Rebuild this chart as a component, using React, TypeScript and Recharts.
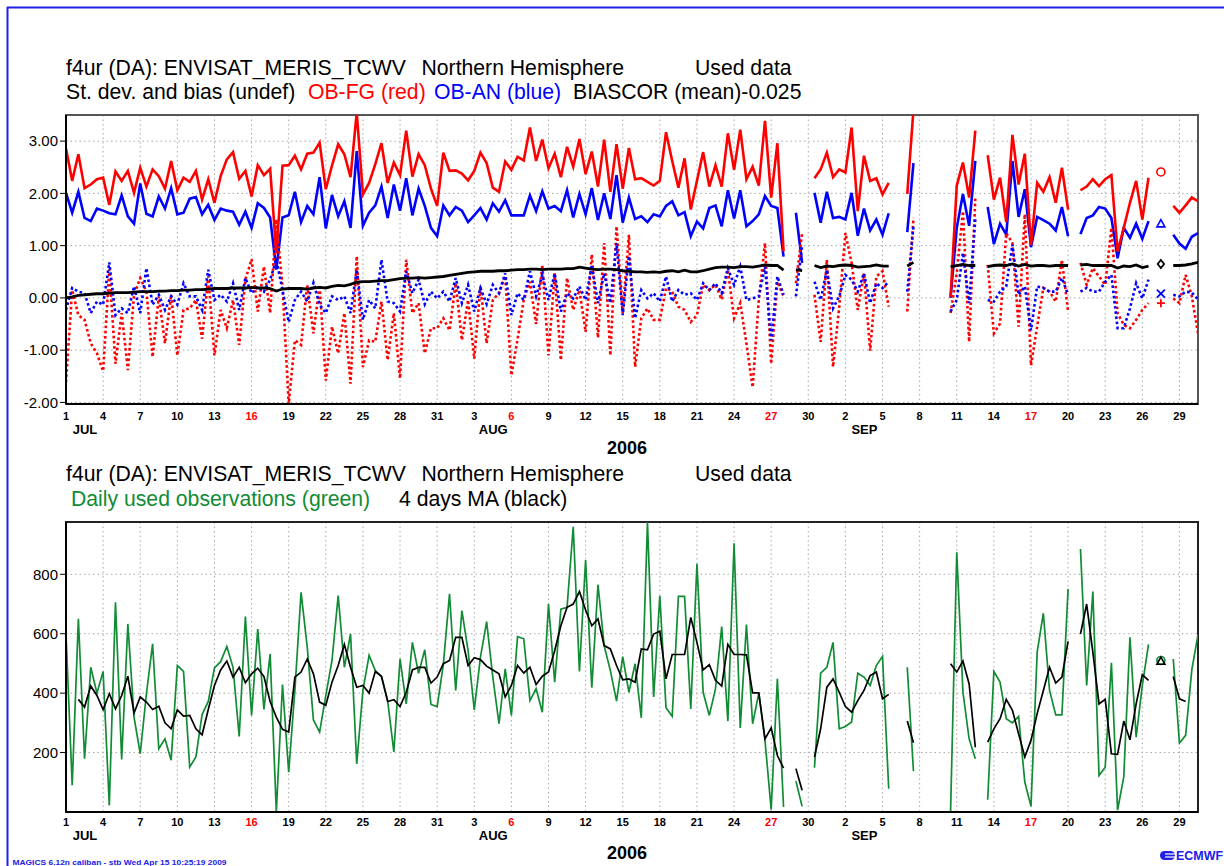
import React from "react";
import {
  LineChart,
  Line,
  XAxis,
  YAxis,
  CartesianGrid,
  ReferenceArea,
} from "recharts";

const FONT = "'Liberation Sans', Arial, Helvetica, sans-serif";
const RED = "#ff0000";
const BLUE = "#0000ff";
const GREEN = "#118c35";
const FRAME_BLUE = "#2020e8";

// x axis: days since 1 Jul 2006 00z, a label every 3 days
const dayTicks = [0, 3, 6, 9, 12, 15, 18, 21, 24, 27, 30, 33, 36, 39, 42, 45, 48, 51, 54, 57, 60, 63, 66, 69, 72, 75, 78, 81, 84, 87, 90];
const dayTickLabels = ["1", "4", "7", "10", "13", "16", "19", "22", "25", "28", "31", "3", "6", "9", "12", "15", "18", "21", "24", "27", "30", "2", "5", "8", "11", "14", "17", "20", "23", "26", "29"];
const redTickIdx = [5, 12, 19, 26];
const monthTickIdx = [0, 11, 21];
const monthNames = ["JUL", "AUG", "SEP"];

const topYTicks = [-2, -1, 0, 1, 2, 3];
const bottomYTicks = [200, 400, 600, 800];

// 12-hourly values, 1 Jul 00z .. 30 Sep 12z (null = no data)
const fgStd = [
  2.86, 2.24, 2.75, 2.1, 2.17, 2.27, 2.3, 1.78, 2.42, 2.24,
  2.43, 2.01, 2.49, 2.13, 2.46, 2.33, 2.09, 2.62, 2.06, 2.3,
  2.22, 2.43, 1.88, 2.27, 1.82, 2.33, 2.65, 2.79, 2.28, 2.43,
  1.94, 2.54, 2.35, 2.47, 0.85, 2.53, 2.54, 2.72, 2.46, 2.76,
  2.78, 2.97, 2.08, 2.53, 2.94, 2.75, 2.31, 3.55, 1.98, 2.2,
  2.56, 2.96, 2.2, 2.59, 2.35, 3.2, 2.32, 2.75, 2.54, 2.09,
  1.76, 2.78, 2.43, 2.44, 2.38, 2.25, 2.43, 2.78, 2.58, 2.11,
  2.03, 2.61, 2.45, 2.7, 2.63, 3.26, 2.62, 3.03, 2.48, 2.76,
  2.31, 2.89, 2.51, 3.04, 2.37, 2.8, 2.13, 3.03, 2.03, 2.94,
  2.09, 2.87, 2.27, 2.29, 2.22, 2.15, 2.24, 3.17, 2.62, 2.11,
  2.67, 1.69, 2.24, 2.79, 2.13, 2.54, 2.13, 3.15, 2.45, 3.22,
  2.27, 2.51, 2.15, 3.39, 1.92, 2.96, 0.89, null, null, null,
  null, 2.29, 2.46, 2.78, 2.31, 2.46, 2.4, 3.26, 1.66, 2.72,
  2.24, 2.29, 1.98, 2.2, null, null, 1.99, 3.6, null, null,
  null, null, null, 0.02, 2.15, 2.59, 1.92, 3.2, null, 2.73,
  1.88, 2.3, 1.45, 3.12, 2.17, 2.76, 1.01, 2.2, 2.03, 2.31,
  1.82, 2.49, 1.69, null, 2.06, 2.13, 2.27, 2.14, 2.27, 2.35,
  0.89, 1.34, 1.82, 2.24, 1.5, 2.3, null, 2.41, null, 1.76,
  1.63, 1.77, 1.92, 1.85,
];

const anStd = [
  2.01, 1.63, 2.03, 1.53, 1.47, 1.71, 1.67, 1.62, 1.6, 1.96,
  1.56, 1.42, 2.19, 1.61, 1.56, 1.94, 1.71, 2.1, 1.6, 1.63,
  1.9, 1.93, 1.6, 1.78, 1.49, 1.71, 1.67, 1.65, 1.4, 1.65,
  1.34, 1.81, 1.72, 1.54, 0.54, 1.54, 1.58, 2.03, 1.45, 1.76,
  1.6, 2.31, 1.33, 1.97, 1.56, 1.85, 1.34, 2.81, 1.38, 1.63,
  1.77, 2.13, 1.53, 2.17, 1.67, 2.29, 1.58, 2.09, 1.76, 1.34,
  1.18, 1.77, 1.58, 1.74, 1.67, 1.45, 1.58, 1.72, 1.5, 1.81,
  1.65, 1.87, 1.58, 1.58, 1.58, 1.96, 1.66, 2.04, 1.71, 1.76,
  1.66, 2.06, 1.54, 1.99, 1.6, 2.1, 1.49, 2.0, 1.51, 2.35,
  1.44, 1.92, 1.51, 1.56, 1.45, 1.6, 1.56, 1.76, 1.85, 1.58,
  1.64, 1.18, 1.46, 1.33, 1.72, 1.77, 1.37, 2.06, 1.52, 2.06,
  1.37, 1.47, 1.6, 1.95, 1.76, 1.72, 0.79, null, 1.63, 0.67,
  null, 2.01, 1.44, 2.03, 1.53, 1.55, 1.5, 2.01, 1.19, 1.71,
  1.29, 1.5, 1.21, 1.62, null, null, 1.26, 2.58, null, null,
  null, null, null, 0.0, 1.34, 1.99, 1.38, 2.62, null, 1.74,
  1.03, 1.42, 1.21, 2.62, 1.55, 2.08, 0.97, 1.55, 1.49, 1.42,
  1.29, 1.74, 1.18, null, 1.22, 1.53, 1.58, 1.74, 1.71, 1.53,
  0.76, 1.34, 1.15, 1.42, 1.13, 1.47, null, 1.42, null, 1.21,
  1.04, 0.94, 1.17, 1.24,
];

const fgBias = [
  -1.61, 0.15, -0.33, -0.42, -0.87, -1.06, -1.4, 0.54, -1.26, -0.29,
  -1.38, 0.06, 0.38, 0.12, -1.13, 0.03, -0.87, 0.06, -1.1, -0.23,
  -0.2, -0.04, -0.78, 0.41, -1.1, -0.23, -0.58, -0.04, -0.9, 0.35,
  0.74, -0.26, 0.6, -0.29, 1.5, 0.22, -2.03, -0.81, -0.9, 0.25,
  -0.68, 0.25, -1.58, -0.55, -1.06, -0.29, -1.64, 0.8, -1.32, -0.81,
  -0.84, -0.07, -1.19, -0.29, -1.54, 0.73, -0.29, -0.1, -1.06, -0.58,
  -0.58, -0.39, -0.62, 0.28, -0.81, -0.04, -1.16, 0.22, -0.87, -0.04,
  0.09, 0.42, -1.48, -0.79, -0.04, 0.31, -0.5, 0.63, -1.1, 0.47,
  -1.19, 0.38, -0.23, 0.15, -0.65, 0.83, -0.76, 1.05, -1.1, 1.37,
  -0.29, 1.21, -1.32, -0.39, -0.2, -0.42, -0.42, 0.19, 0.12, -0.17,
  -0.23, -0.46, -0.33, 0.25, 0.15, 0.25, -0.03, 0.54, -0.39, -0.1,
  -0.87, -1.71, -0.04, 1.05, -1.26, 0.31, 0.03, null, 0.28, 1.24,
  null, 0.06, -0.84, 0.73, -1.32, -0.17, 1.24, 0.67, -0.23, 0.47,
  -1.01, 0.41, 0.51, -0.17, null, null, -0.26, 1.53, null, null,
  null, null, null, -0.29, 0.47, 1.66, -0.84, 1.9, null, 0.63,
  -0.68, -0.49, 1.24, 1.05, -0.55, 1.6, -1.29, -0.55, 0.19, 0.12,
  -0.07, 0.73, -0.26, null, 0.67, 0.25, 0.57, 0.41, 0.25, 1.34,
  -0.29, -0.52, -0.58, -0.42, -0.23, -0.1, null, -0.1, null, -0.01,
  -0.1, 0.44, 0.03, -0.68,
];

const anBias = [
  -0.23, 0.19, 0.12, 0.09, -0.29, -0.07, -0.13, 0.68, -0.33, -0.2,
  -0.29, 0.22, -0.29, 0.57, -0.13, 0.06, -0.23, 0.03, -0.13, 0.28,
  0.03, 0.03, -0.23, 0.54, -0.04, 0.06, -0.07, 0.28, -0.23, 0.38,
  0.09, 0.22, 0.12, 0.35, 0.73, 0.15, -0.46, -0.04, 0.12, -0.07,
  0.29, -0.13, -0.29, 0.03, -0.04, 0.03, -0.29, 0.54, -0.42, -0.04,
  -0.2, 0.73, -0.07, -0.1, -0.26, 0.51, 0.09, 0.35, -0.12, 0.12,
  -0.01, 0.12, -0.07, 0.38, -0.1, 0.25, -0.26, 0.19, -0.12, 0.25,
  0.09, 0.47, -0.33, 0.09, -0.04, 0.51, 0.03, 0.44, -0.04, 0.47,
  -0.26, 0.09, -0.01, 0.22, -0.04, 0.63, -0.1, 0.47, -0.1, 1.05,
  -0.33, 0.8, -0.39, 0.15, -0.01, 0.09, -0.07, 0.41, -0.07, 0.15,
  0.06, 0.09, -0.04, 0.28, 0.15, 0.28, 0.09, 0.57, 0.25, 0.6,
  -0.04, -0.01, 0.03, 0.6, -0.81, 0.41, 0.06, null, 0.03, 0.99,
  null, 0.31, -0.04, 0.54, -0.2, 0.03, 0.44, 0.35, 0.12, 0.47,
  -0.1, 0.28, 0.19, 0.31, null, null, 0.12, 1.37, null, null,
  null, null, null, -0.26, -0.04, 0.86, -0.1, 1.5, null, -0.04,
  -0.07, 0.12, 0.22, 1.02, 0.06, 0.22, -0.62, 0.22, 0.19, 0.12,
  0.12, 0.38, 0.06, null, 0.12, 0.19, 0.12, 0.12, 0.31, 0.44,
  -0.58, -0.58, -0.2, 0.28, -0.01, 0.35, null, 0.08, null, 0.06,
  0.03, 0.12, 0.1, -0.03,
];

const biasMean = [
  0, 0.02, 0.05, 0.06, 0.07, 0.08, 0.08, 0.09, 0.1, 0.1,
  0.1, 0.11, 0.12, 0.12, 0.12, 0.13, 0.13, 0.14, 0.14, 0.15,
  0.15, 0.16, 0.16, 0.17, 0.18, 0.18, 0.18, 0.19, 0.19, 0.19,
  0.2, 0.19, 0.19, 0.18, 0.13, 0.17, 0.18, 0.18, 0.18, 0.17,
  0.19, 0.2, 0.19, 0.22, 0.24, 0.23, 0.26, 0.3, 0.31, 0.31,
  0.32, 0.33, 0.33, 0.35, 0.37, 0.38, 0.38, 0.39, 0.38, 0.39,
  0.4, 0.41, 0.43, 0.45, 0.47, 0.49, 0.5, 0.51, 0.51, 0.51,
  0.52, 0.52, 0.53, 0.54, 0.54, 0.55, 0.55, 0.54, 0.55, 0.55,
  0.55, 0.56, 0.56, 0.59, 0.57, 0.55, 0.54, 0.55, 0.55, 0.54,
  0.52, 0.51, 0.5, 0.5, 0.49, 0.5, 0.49, 0.51, 0.52, 0.5,
  0.53, 0.5, 0.5, 0.52, 0.55, 0.58, 0.59, 0.59, 0.58, 0.6,
  0.6, 0.59, 0.61, 0.63, 0.62, 0.62, 0.53, null, 0.54, 0.52,
  null, 0.62, 0.58, 0.61, 0.6, 0.62, 0.63, 0.62, 0.59, 0.6,
  0.61, 0.63, 0.61, 0.61, null, null, 0.61, 0.68, null, null,
  null, null, null, 0.6, 0.62, 0.64, 0.62, 0.62, null, 0.6,
  0.62, 0.63, 0.62, 0.65, 0.61, 0.64, 0.61, 0.62, 0.62, 0.61,
  0.62, 0.62, 0.62, null, 0.63, 0.64, 0.62, 0.62, 0.62, 0.62,
  0.57, 0.61, 0.6, 0.63, 0.58, 0.61, null, 0.65, null, 0.62,
  0.62, 0.63, 0.65, 0.68,
];

const obs = [
  599, 90, 650, 179, 487, 400, 473, 22, 706, 177,
  633, 319, 196, 398, 566, 213, 246, 174, 493, 473,
  151, 185, 328, 372, 485, 506, 557, 487, 254, 658,
  325, 616, 345, 532, 0, 429, 134, 409, 739, 555,
  310, 269, 392, 510, 728, 487, 599, 162, 409, 527,
  476, 456, 375, 202, 515, 364, 571, 467, 546, 362,
  355, 496, 734, 409, 678, 543, 344, 521, 641, 454,
  297, 482, 325, 590, 583, 375, 415, 336, 700, 437,
  683, 689, 960, 473, 848, 418, 765, 560, 476, 373,
  523, 403, 499, 317, 975, 387, 728, 351, 322, 726,
  726, 347, 835, 403, 325, 415, 624, 306, 904, 283,
  631, 297, 400, 241, 8, 448, 17, null, 104, 19,
  null, 149, 467, 487, 571, 280, 288, 303, 467, 454,
  426, 493, 524, 78, null, null, 487, 137, null, null,
  null, null, null, 0, 874, 403, 246, 179, null, 41,
  473, 437, 314, 300, 322, 101, 19, 538, 669, 409,
  327, 327, 751, null, 885, 426, 742, 123, 151, 502,
  6, 118, 588, 252, 426, 564, null, 510, null, 515,
  232, 258, 478, 597,
];

const obsMa = [
  null, null, 379, 353, 424, 392, 345, 398, 347, 392,
  457, 333, 387, 370, 345, 356, 300, 280, 344, 323,
  325, 280, 260, 345, 426, 478, 508, 454, 487, 435,
  465, 484, 456, 372, 319, 278, 269, 454, 471, 515,
  465, 370, 359, 437, 493, 564, 487, 420, 426, 400,
  473, 457, 372, 378, 355, 403, 478, 487, 487, 434,
  454, 499, 510, 588, 588, 493, 519, 513, 491, 478,
  465, 387, 426, 493, 468, 487, 429, 457, 471, 543,
  627, 689, 700, 742, 680, 627, 650, 560, 549, 493,
  445, 448, 437, 549, 546, 599, 608, 448, 530, 530,
  530, 655, 571, 478, 496, 443, 424, 564, 530, 530,
  529, 401, 401, 246, 283, 190, 148, null, 146, 73,
  null, 185, 280, 420, 448, 403, 355, 336, 375, 409,
  459, 471, 381, 396, null, null, 306, 233, null, null,
  null, null, null, 499, 471, 508, 431, 218, null, 235,
  280, 314, 379, 342, 263, 185, 241, 331, 409, 487,
  434, 454, 574, null, 599, 700, 538, 364, 379, 196,
  194, 306, 243, 364, 462, 443, null, 508, null, 456,
  381, 372, null, null,
];

const rows = fgStd.map((v, i) => ({
  t: i / 2,
  fgStd: v,
  anStd: anStd[i],
  fgBias: fgBias[i],
  anBias: anBias[i],
  biasMean: biasMean[i],
  obs: obs[i],
  obsMa: obsMa[i],
}));

// single points with no neighbours are drawn as markers (like MAGICS does)
function Marker({ shape, cx, cy, color }: any) {
  const s = 4;
  if (shape === "circle")
    return <circle cx={cx} cy={cy} r={s} fill="none" stroke={color} strokeWidth={1.6} />;
  if (shape === "triangle")
    return (
      <path
        d={`M${cx},${cy - s} L${cx + s},${cy + s * 0.8} L${cx - s},${cy + s * 0.8} Z`}
        fill="none"
        stroke={color}
        strokeWidth={1.6}
      />
    );
  if (shape === "diamond")
    return (
      <path
        d={`M${cx},${cy - s} L${cx + s * 0.8},${cy} L${cx},${cy + s} L${cx - s * 0.8},${cy} Z`}
        fill="none"
        stroke={color}
        strokeWidth={1.8}
      />
    );
  if (shape === "cross")
    return (
      <path
        d={`M${cx - s},${cy - s} L${cx + s},${cy + s} M${cx - s},${cy + s} L${cx + s},${cy - s}`}
        stroke={color}
        strokeWidth={1.8}
      />
    );
  return (
    <path
      d={`M${cx - s},${cy} L${cx + s},${cy} M${cx},${cy - s} L${cx},${cy + s}`}
      stroke={color}
      strokeWidth={1.8}
    />
  );
}

const loneDot = (key: string, shape: string, color: string) => (p: any) => {
  const i = p.index;
  const k = `${key}-${i}`;
  const r: any = rows;
  const lone =
    r[i]?.[key] != null && r[i - 1]?.[key] == null && r[i + 1]?.[key] == null;
  if (!lone || p.cx == null || p.cy == null) return <g key={k} />;
  return (
    <g key={k}>
      <Marker shape={shape} cx={p.cx} cy={p.cy} color={color} />
    </g>
  );
};

const makeDayTick = (dayDy: number, monthDy: number) => (props: any) => {
  const { x, y, payload } = props;
  const idx = dayTicks.indexOf(payload.value);
  if (idx < 0) return <g />;
  const m = monthTickIdx.indexOf(idx);
  return (
    <g>
      <text
        x={x}
        y={y + dayDy}
        textAnchor="middle"
        fontSize={11}
        fontWeight="bold"
        fontFamily={FONT}
        fill={redTickIdx.includes(idx) ? RED : "#000"}
      >
        {dayTickLabels[idx]}
      </text>
      {m >= 0 && (
        <text
          x={x + 19}
          y={y + monthDy}
          textAnchor="middle"
          fontSize={13}
          fontWeight="bold"
          fontFamily={FONT}
          fill="#000"
        >
          {monthNames[m]}
        </text>
      )}
    </g>
  );
};

const X_DOMAIN = [0, 91.5];
const TOP_DOMAIN = [-2.03, 3.5];
const BOTTOM_DOMAIN = [0, 976];

const titleStyle = { fontFamily: FONT, fontSize: 21.2 };

export default function App() {
  return (
    <div
      style={{
        position: "absolute",
        left: 0,
        top: 0,
        width: 1224,
        height: 866,
        overflow: "hidden",
        background: "#fff",
      }}
    >
      <div style={{ position: "absolute", left: 0, top: 0 }}>
        <LineChart
          width={1224}
          height={450}
          data={rows}
          margin={{ top: 115, right: 26, bottom: 0, left: 0 }}
        >
          <CartesianGrid stroke="#a8a8a8" strokeDasharray="1.5 3" />
          <XAxis
            dataKey="t"
            type="number"
            domain={X_DOMAIN}
            ticks={dayTicks}
            interval={0}
            height={46}
            tickSize={0}
            tickMargin={0}
            tickLine={false}
            tick={makeDayTick(16, 30)}
            axisLine={{ stroke: "#000", strokeWidth: 2 }}
            allowDataOverflow
          />
          <YAxis
            type="number"
            domain={TOP_DOMAIN}
            ticks={topYTicks}
            interval={0}
            width={66}
            tickSize={6}
            tickMargin={2}
            allowDataOverflow
            tickFormatter={(v: number) => v.toFixed(2)}
            tick={{ fontSize: 15, fill: "#000", fontFamily: FONT }}
            tickLine={{ stroke: "#000" }}
            axisLine={{ stroke: "#000", strokeWidth: 2 }}
          />
          <ReferenceArea
            x1={X_DOMAIN[0]}
            x2={X_DOMAIN[1]}
            y1={TOP_DOMAIN[0]}
            y2={TOP_DOMAIN[1]}
            fill="none"
            stroke="#555"
            strokeWidth={2}
          />
          <Line
            dataKey="anStd"
            stroke={BLUE}
            strokeWidth={2.6}
            dot={loneDot("anStd", "triangle", BLUE)}
            activeDot={false}
            isAnimationActive={false}
          />
          <Line
            dataKey="fgStd"
            stroke={RED}
            strokeWidth={2.6}
            dot={loneDot("fgStd", "circle", RED)}
            activeDot={false}
            isAnimationActive={false}
          />
          <Line
            dataKey="fgBias"
            stroke={RED}
            strokeWidth={2.6}
            strokeDasharray="2.6 2.6"
            dot={loneDot("fgBias", "plus", RED)}
            activeDot={false}
            isAnimationActive={false}
          />
          <Line
            dataKey="anBias"
            stroke={BLUE}
            strokeWidth={2.6}
            strokeDasharray="2.6 2.6"
            dot={loneDot("anBias", "cross", BLUE)}
            activeDot={false}
            isAnimationActive={false}
          />
          <Line
            dataKey="biasMean"
            stroke="#000"
            strokeWidth={2.8}
            dot={loneDot("biasMean", "diamond", "#000")}
            activeDot={false}
            isAnimationActive={false}
          />
        </LineChart>
      </div>

      <div style={{ position: "absolute", left: 0, top: 450 }}>
        <LineChart
          width={1224}
          height={416}
          data={rows}
          margin={{ top: 72, right: 26, bottom: 8, left: 0 }}
        >
          <CartesianGrid stroke="#a8a8a8" strokeDasharray="1.5 3" />
          <XAxis
            dataKey="t"
            type="number"
            domain={X_DOMAIN}
            ticks={dayTicks}
            interval={0}
            height={46}
            tickSize={0}
            tickMargin={0}
            tickLine={false}
            tick={makeDayTick(14, 28)}
            axisLine={{ stroke: "#000", strokeWidth: 2 }}
            allowDataOverflow
          />
          <YAxis
            type="number"
            domain={BOTTOM_DOMAIN}
            ticks={bottomYTicks}
            interval={0}
            width={66}
            tickSize={6}
            tickMargin={2}
            allowDataOverflow
            tick={{ fontSize: 15, fill: "#000", fontFamily: FONT }}
            tickLine={{ stroke: "#000" }}
            axisLine={{ stroke: "#000", strokeWidth: 2 }}
          />
          <ReferenceArea
            x1={X_DOMAIN[0]}
            x2={X_DOMAIN[1]}
            y1={BOTTOM_DOMAIN[0]}
            y2={BOTTOM_DOMAIN[1]}
            fill="none"
            stroke="#222"
            strokeWidth={2}
          />
          <Line
            dataKey="obs"
            stroke={GREEN}
            strokeWidth={1.7}
            dot={loneDot("obs", "circle", GREEN)}
            activeDot={false}
            isAnimationActive={false}
          />
          <Line
            dataKey="obsMa"
            stroke="#000"
            strokeWidth={1.7}
            dot={loneDot("obsMa", "triangle", "#000")}
            activeDot={false}
            isAnimationActive={false}
          />
        </LineChart>
      </div>

      <svg
        width={1224}
        height={866}
        style={{ position: "absolute", left: 0, top: 0, pointerEvents: "none" }}
      >
        <line x1={7} y1={7.5} x2={1224} y2={7.5} stroke={FRAME_BLUE} strokeWidth={2} />
        <line x1={7.5} y1={7} x2={7.5} y2={866} stroke={FRAME_BLUE} strokeWidth={2} />

        <g style={titleStyle} fill="#000">
          <text x={66} y={75}>f4ur (DA): ENVISAT_MERIS_TCWV</text>
          <text x={421.5} y={75}>Northern Hemisphere</text>
          <text x={695} y={75}>Used data</text>
          <text x={66} y={99}>St. dev. and bias (undef)</text>
          <text x={308} y={99} fill={RED}>OB-FG (red)</text>
          <text x={434} y={99} fill={BLUE}>OB-AN (blue)</text>
          <text x={573} y={99}>BIASCOR (mean)-0.025</text>

          <text x={66} y={481}>f4ur (DA): ENVISAT_MERIS_TCWV</text>
          <text x={421.5} y={481}>Northern Hemisphere</text>
          <text x={695} y={481}>Used data</text>
          <text x={71} y={506} fill={GREEN}>Daily used observations (green)</text>
          <text x={399} y={506}>4 days MA (black)</text>
        </g>

        <text x={627} y={454} textAnchor="middle" fontFamily={FONT} fontSize={18} fontWeight="bold">
          2006
        </text>
        <text x={627} y={859} textAnchor="middle" fontFamily={FONT} fontSize={18} fontWeight="bold">
          2006
        </text>

        <text
          x={12.5}
          y={865}
          fontFamily={FONT}
          fontSize={8}
          fontWeight="bold"
          fill={FRAME_BLUE}
          textLength={214}
          lengthAdjust="spacingAndGlyphs"
        >
          MAGICS 6.12n caliban - stb Wed Apr 15 10:25:19 2009
        </text>

        <rect x={1160} y={851} width={15} height={9} rx={4.5} fill={FRAME_BLUE} />
        <line x1={1165} y1={854} x2={1176} y2={854} stroke="#fff" strokeWidth={1.2} />
        <line x1={1165} y1={857} x2={1176} y2={857} stroke="#fff" strokeWidth={1.2} />
        <text
          x={1176}
          y={860}
          fontFamily={FONT}
          fontSize={12}
          fontWeight="bold"
          fill={FRAME_BLUE}
          textLength={47}
          lengthAdjust="spacingAndGlyphs"
        >
          ECMWF
        </text>
      </svg>
    </div>
  );
}
